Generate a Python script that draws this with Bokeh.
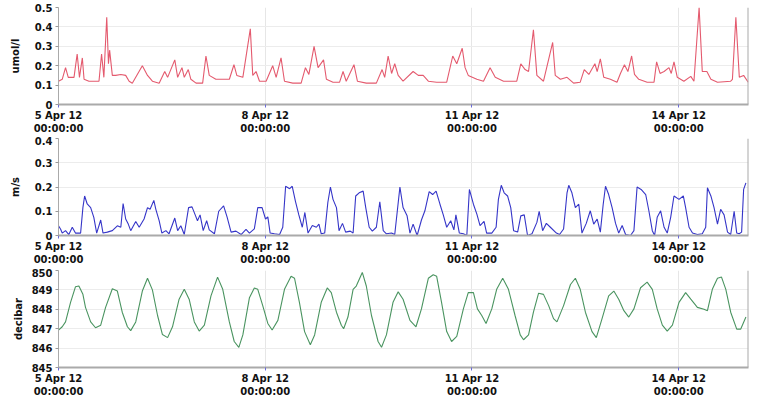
from datetime import datetime, timedelta
from bokeh.plotting import figure
from bokeh.layouts import column
from bokeh.models import Range1d, FixedTicker, Span
from bokeh.embed import file_html
from bokeh.resources import INLINE

START = datetime(2012, 4, 5)
END_HOURS = 240.3

# --- umol/l (hours since 5 Apr 12 00:00, value) ---
umol_hours = [0.0, 1.3, 2.45, 3.4, 5.4, 6.5, 7.3, 8.3, 8.9, 10.6, 14.1, 15.0, 15.8, 16.8, 17.4, 17.8,
              18.75, 19.9, 21.7, 23.4, 24.6, 25.7, 29.2, 31.0, 32.7, 35.05, 37.0, 38.0, 40.5, 41.5,
              43.0, 43.8, 45.2, 46.1, 47.9, 50.2, 51.35, 52.5, 54.8, 59.5, 61.1, 62.1, 64.2, 66.8,
              67.65, 68.8, 70.0, 72.3, 74.6, 75.8, 77.5, 78.7, 81.6, 84.5, 86.0, 87.2, 89.0, 90.4,
              92.3, 93.3, 95.6, 97.9, 99.1, 100.2, 102.9, 104.1, 107.2, 110.7, 112.7, 113.6, 114.8,
              116.0, 117.1, 118.3, 120.0, 123.5, 125.3, 127.0, 128.8, 131.7, 135.2, 137.3, 138.7,
              140.6, 141.6, 142.7, 145.7, 148.0, 150.3, 152.1, 155.0, 159.6, 161.0, 162.5, 163.7,
              165.4, 166.6, 168.9, 172.1, 173.0, 174.8, 177.1, 179.4, 181.7, 183.1, 184.7, 186.8,
              187.6, 188.7, 189.9, 192.2, 194.5, 195.7, 197.1, 198.3, 199.6, 200.6, 202.1, 205.0,
              207.4, 208.3, 209.5, 210.9, 212.6, 213.4, 214.35, 215.5, 217.8, 220.2, 221.3, 223.1,
              224.2, 225.8, 227.2, 229.5, 234.1, 234.7, 235.9, 237.1, 238.6, 240.2]
umol_values = [0.12, 0.13, 0.19, 0.14, 0.14, 0.26, 0.14, 0.24, 0.13, 0.12, 0.12, 0.26, 0.14, 0.45, 0.21, 0.28,
               0.15, 0.15, 0.155, 0.15, 0.12, 0.11, 0.20, 0.15, 0.12, 0.11, 0.17, 0.14, 0.23, 0.14,
               0.19, 0.14, 0.18, 0.13, 0.11, 0.11, 0.25, 0.15, 0.13, 0.13, 0.205, 0.15, 0.14, 0.39,
               0.15, 0.17, 0.12, 0.12, 0.20, 0.14, 0.24, 0.12, 0.11, 0.11, 0.19, 0.155, 0.30, 0.19,
               0.23, 0.13, 0.115, 0.115, 0.17, 0.12, 0.205, 0.12, 0.11, 0.11, 0.18, 0.14, 0.25,
               0.16, 0.21, 0.15, 0.12, 0.17, 0.15, 0.15, 0.12, 0.115, 0.115, 0.25, 0.21,
               0.29, 0.19, 0.15, 0.13, 0.12, 0.19, 0.14, 0.12, 0.12, 0.21, 0.18, 0.17,
               0.385, 0.15, 0.12, 0.32, 0.15, 0.13, 0.14, 0.11, 0.115, 0.18, 0.155, 0.21,
               0.17, 0.235, 0.14, 0.13, 0.115, 0.16, 0.205, 0.17, 0.25, 0.155, 0.13, 0.115,
               0.115, 0.22, 0.16, 0.17, 0.19, 0.16, 0.22, 0.14, 0.12, 0.145, 0.12, 0.50,
               0.17, 0.17, 0.13, 0.115, 0.12, 0.13, 0.45, 0.14, 0.15, 0.115]

# --- m/s ---
ms_hours = [0.0, 0.7, 1.3, 2.45, 3.6, 4.8, 5.9, 7.7, 8.5, 9.1, 10.0, 11.2, 12.3, 13.3, 14.7, 15.5, 17.0,
            18.75, 20.5, 21.7, 22.5, 23.4, 24.3, 25.15, 26.9, 28.1, 29.8, 31.0, 31.9, 33.2, 33.9, 35.05,
            36.0, 37.4, 38.5, 40.5, 41.5, 42.6, 43.8, 45.3, 46.5, 47.6, 48.4, 49.3, 50.4, 51.6, 52.5,
            54.3, 55.8, 57.5, 58.7, 60.1, 61.8, 63.6, 65.3, 66.5, 68.2, 69.4, 70.9, 72.1, 72.9, 73.7,
            75.2, 77.0, 78.1, 79.1, 80.5, 81.4, 82.5, 83.7, 84.9, 85.8, 86.9, 88.4, 89.8, 90.7, 91.5,
            92.7, 93.8, 94.7, 95.6, 96.8, 97.7, 98.9, 100.0, 101.6, 102.6, 103.5, 104.7, 106.1, 107.0,
            108.2, 109.3, 110.7, 111.9, 113.1, 114.2, 116.0, 117.1, 118.9, 120.0, 121.4, 122.4, 123.5,
            124.9, 126.4, 127.6, 129.1, 130.3, 131.5, 132.85, 134.0, 135.2, 136.6, 137.7, 138.4, 139.6,
            141.0, 142.2, 143.1, 144.5, 145.7, 146.8, 148.2, 149.1, 150.9, 152.4, 153.2, 154.2, 155.2,
            156.4, 157.5, 158.5, 159.9, 161.0, 162.2, 163.35, 164.9, 166.6, 167.4, 168.6, 169.9, 171.3,
            173.4, 174.5, 175.9, 177.1, 177.7, 178.8, 180.0, 181.2, 182.3, 183.8, 185.2, 186.4, 187.6,
            188.7, 189.7, 190.5, 191.6, 192.8, 194.0, 195.1, 196.3, 197.5, 199.2, 200.4, 201.5, 202.9,
            204.5, 205.6, 206.8, 207.6, 208.5, 209.7, 210.9, 212.0, 213.2, 214.35, 216.1, 217.6, 218.4,
            219.6, 220.8, 222.5, 224.2, 225.4, 226.0, 227.2, 228.3, 229.5, 230.6, 231.8, 233.0, 234.1,
            235.3, 236.2, 237.05, 237.9, 238.6, 239.4]
ms_values = [0.04, 0.027, 0.01, 0.02, 0.004, 0.034, 0.01, 0.01, 0.115, 0.163, 0.13, 0.115, 0.075, 0.01, 0.064, 0.01, 0.014,
             0.02, 0.04, 0.034, 0.132, 0.068, 0.047, 0.02, 0.058, 0.034, 0.068, 0.115, 0.108, 0.145, 0.108, 0.061,
             0.01, 0.02, 0.007, 0.072, 0.02, 0.04, 0.004, 0.115, 0.118, 0.085, 0.061, 0.085, 0.02, 0.061, 0.023,
             0.007, 0.10, 0.122, 0.077, 0.014, 0.018, 0.004, 0.025, 0.01, 0.027, 0.115, 0.115, 0.068, 0.077, 0.01,
             0.007, 0.004, 0.034, 0.203, 0.193, 0.203, 0.142, 0.085, 0.034, 0.095, 0.01, 0.041, 0.034, 0.047, 0.007,
             0.01, 0.136, 0.20, 0.149, 0.115, 0.02, 0.05, 0.014, 0.018, 0.01, 0.163, 0.176, 0.183, 0.115,
             0.034, 0.018, 0.034, 0.139, 0.02, 0.007, 0.01, 0.004, 0.20, 0.115, 0.081, 0.01, 0.047,
             0.0, 0.064, 0.102, 0.181, 0.169, 0.183, 0.129, 0.085, 0.034, 0.061, 0.023, 0.085, 0.01,
             0.007, 0.0, 0.19, 0.129, 0.088, 0.041, 0.058, 0.01, 0.01, 0.034, 0.149, 0.207, 0.176,
             0.163, 0.115, 0.02, 0.014, 0.081, 0.085, 0.0, 0.007, 0.054, 0.1, 0.02, 0.05, 0.034,
             0.01, 0.004, 0.027, 0.176, 0.207, 0.176, 0.115, 0.129, 0.01, 0.05, 0.102, 0.047, 0.068,
             0.014, 0.129, 0.203, 0.169, 0.115, 0.05, 0.01, 0.041, 0.004, 0.0, 0.02, 0.2, 0.19,
             0.169, 0.102, 0.02, 0.0, 0.075, 0.102, 0.034, 0.01, 0.075, 0.163, 0.149, 0.163, 0.115,
             0.034, 0.01, 0.004, 0.007, 0.034, 0.197, 0.163, 0.115, 0.047, 0.108, 0.085, 0.014, 0.004,
             0.10, 0.01, 0.007, 0.014, 0.19, 0.217]

# --- decibar ---
db_hours = [0.0, 1.3, 2.45, 4.2, 5.9, 7.1, 8.5, 9.4, 11.2, 12.9, 14.7, 16.4, 18.75, 20.5, 22.2, 24.0, 25.15,
            26.9, 29.2, 31.0, 32.7, 34.5, 36.2, 38.0, 39.7, 42.0, 43.8, 45.5, 47.3, 49.0, 50.8, 53.1, 55.4,
            57.2, 59.5, 61.2, 62.8, 64.2, 66.5, 68.2, 69.4, 71.1, 72.9, 74.4, 76.4, 78.7, 81.0, 82.2, 83.9,
            85.7, 87.7, 89.2, 91.5, 93.6, 95.0, 96.8, 98.5, 99.3, 100.8, 102.6, 103.7, 105.8, 107.2, 109.0,
            111.3, 112.5, 114.2, 116.5, 118.3, 120.0, 122.4, 124.5, 126.4, 128.8, 130.5, 131.7, 133.4, 135.2,
            136.9, 138.7, 141.0, 142.7, 144.5, 145.9, 147.4, 148.9, 150.9, 152.6, 154.7, 156.7, 159.0, 160.8,
            161.95, 163.7, 165.4, 167.2, 168.9, 170.7, 172.4, 173.6, 175.9, 178.3, 180.0, 181.7, 183.5, 185.8,
            187.3, 189.3, 191.6, 193.4, 195.1, 196.9, 198.6, 200.4, 202.7, 205.0, 206.8, 208.5, 210.3, 212.0,
            213.8, 216.1, 218.4, 220.2, 222.5, 224.8, 226.0, 227.7, 229.5, 230.9, 232.4, 234.1, 236.2, 237.6,
            239.4]
db_values = [846.93, 847.1, 847.35, 848.36, 849.16, 849.2, 848.77, 848.1, 847.35, 847.05, 847.18, 848.1, 849.06, 848.94, 847.85, 847.1, 846.9,
             847.35, 848.94, 849.6, 849.0, 847.68, 846.7, 846.54, 847.1, 848.52, 849.03, 848.52, 847.35, 846.88, 847.18, 848.69, 849.66,
             849.03, 847.35, 846.34, 846.04, 846.68, 848.6, 849.1, 849.03, 848.2, 847.27, 846.93, 847.43, 849.03, 849.7, 849.6, 848.36,
             846.85, 846.17, 846.68, 848.36, 849.1, 848.86, 847.85, 847.18, 847.0, 847.6, 849.03, 849.2, 849.9, 849.2, 847.68,
             846.34, 846.04, 846.68, 848.36, 848.9, 848.52, 847.43, 847.1, 848.02, 849.6, 849.78, 849.7, 848.36, 846.85,
             846.34, 846.6, 848.02, 848.86, 848.86, 848.02, 847.68, 847.27, 848.02, 849.03, 849.6, 849.03, 847.68, 846.68,
             846.43, 846.68, 847.85, 848.83, 848.77, 848.19, 847.52, 847.35, 848.19, 849.28, 849.6, 849.03, 847.85, 846.85,
             846.54, 847.52, 848.69, 848.94, 848.52, 847.93, 847.6, 848.02, 849.11, 849.4, 849.03, 848.02, 847.18, 846.88,
             847.18, 848.36, 848.86, 848.52, 848.1, 848.0, 847.93, 849.03, 849.6, 849.66, 849.03, 847.85, 846.98, 846.98,
             847.6]

# x tick positions (days since start) and labels
xtick_days = [0, 3, 6, 9]
xtick_labels = ["5 Apr 12\n00:00:00", "8 Apr 12\n00:00:00", "11 Apr 12\n00:00:00", "14 Apr 12\n00:00:00"]

panels = [
    dict(label="umol/l", hours=umol_hours, values=umol_values, color="#e45a6e",
         yr=(0, 0.5), yticks=[0, 0.1, 0.2, 0.3, 0.4, 0.5], ylabels=["0", "0.1", "0.2", "0.3", "0.4", "0.5"]),
    dict(label="m/s", hours=ms_hours, values=ms_values, color="#3535c8",
         yr=(0, 0.4), yticks=[0, 0.1, 0.2, 0.3, 0.4], ylabels=["0", "0.1", "0.2", "0.3", "0.4"]),
    dict(label="decibar", hours=db_hours, values=db_values, color="#4a9460",
         yr=(845, 850), yticks=[845, 846, 847, 848, 849, 850], ylabels=["845", "846", "847", "848", "849", "850"]),
]

def ms(dt):
    return (dt - datetime(1970, 1, 1)).total_seconds() * 1000.0

FONT = "DejaVu Sans"
frame_heights = [97, 97, 97]
tops = [7, 2, 2]
bottoms = [30, 33, 29]
standoffs = [11, 11, 5]
figs = []
for i, pdef in enumerate(panels):
    p = figure(frame_width=690, frame_height=frame_heights[i], x_axis_type="datetime",
               output_backend="svg", toolbar_location=None,
               min_border_left=58, min_border_right=3, min_border_top=tops[i],
               min_border_bottom=bottoms[i])
    xs = [START + timedelta(hours=h) for h in pdef["hours"]]
    p.line(xs, pdef["values"], line_color=pdef["color"], line_width=1.1)
    x_end = ms(START + timedelta(hours=END_HOURS))
    p.x_range = Range1d(ms(START), x_end)
    p.y_range = Range1d(*pdef["yr"])
    tick_ms = [ms(START + timedelta(days=d)) for d in xtick_days]
    p.xaxis.ticker = FixedTicker(ticks=tick_ms)
    p.xaxis.major_label_overrides = {t: lab for t, lab in zip(tick_ms, xtick_labels)}
    p.yaxis.ticker = FixedTicker(ticks=pdef["yticks"])
    p.yaxis.major_label_overrides = {t: lab for t, lab in zip(pdef["yticks"], pdef["ylabels"])}
    p.yaxis.axis_label = pdef["label"]
    p.yaxis.axis_label_text_font = FONT
    p.yaxis.axis_label_text_font_style = "bold"
    p.yaxis.axis_label_text_font_size = "10px"
    p.yaxis.axis_label_text_color = "#111111"
    p.yaxis.axis_label_standoff = standoffs[i]
    for ax in (p.xaxis, p.yaxis):
        ax.major_label_text_font = FONT
        ax.major_label_text_font_style = "bold"
        ax.major_label_text_font_size = "10px"
        ax.major_label_text_color = "#111111"
        ax.minor_tick_line_color = None
    p.yaxis.major_tick_out = 3
    p.yaxis.major_tick_in = 0
    p.yaxis.major_tick_line_color = "#999999"
    p.yaxis.axis_line_color = "#aaaaaa"
    p.yaxis.major_label_standoff = 3
    p.xaxis.major_tick_out = 3
    p.xaxis.major_tick_in = 0
    p.xaxis.major_tick_line_color = "#6b6bd8"
    p.xaxis.axis_line_color = "#aaaaaa"
    p.xaxis.axis_line_width = 2
    p.xaxis.major_label_standoff = 2
    p.ygrid.grid_line_color = "#ececec"
    p.xgrid.grid_line_color = "#e6e6e6"
    p.add_layout(Span(location=x_end, dimension="height", line_color="#aaaaaa", line_width=2))
    p.outline_line_color = None
    p.background_fill_color = "white"
    p.border_fill_color = "white"
    figs.append(p)

layout = column(*figs, spacing=0)
open("out.html", "w").write(file_html(layout, INLINE))
